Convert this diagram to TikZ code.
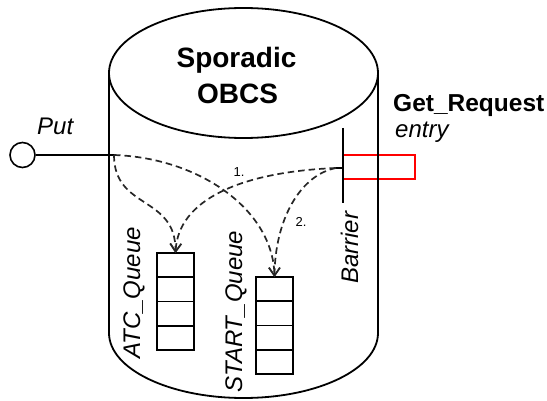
\documentclass[tikz,border=0pt]{standalone}
\usepackage{fontspec}
\setmainfont{Liberation Sans}
\usetikzlibrary{arrows.meta}
\begin{document}
\begin{tikzpicture}[x=1pt,y=-1pt,
  wall/.style={line width=1.8pt},
  cell/.style={draw,line width=1.6pt,minimum width=37pt,minimum height=24.25pt,inner sep=0pt,outer sep=0pt},
  flow/.style={line width=1.7pt,black!85,dash pattern=on 6.5pt off 4pt,-{Straight Barb[length=8pt,width=11pt,line width=1.5pt]}},
  lbl/.style={font=\fontsize{24}{28}\selectfont,inner sep=0pt},
  slant/.style={font=\fontsize{24}{28}\selectfont\itshape,inner sep=0pt},
  title/.style={font=\fontsize{28}{32}\selectfont\bfseries,inner sep=0pt},
  step num/.style={font=\fontsize{13}{15}\selectfont,inner sep=0pt}]
\useasboundingbox (0,0) rectangle (547,401);

% entry box of Get_Request (drawn under the wall)
\node[draw=red,line width=1.3pt,minimum width=72pt,minimum height=24pt,inner sep=0pt] (entry) at (379,167) {};

% cylinder
\draw[wall] (243.5,73) ellipse [x radius=134.5pt, y radius=65pt];
\draw[wall] (109,73) -- (109,333) arc[start angle=180,end angle=360,x radius=134.5pt,y radius=65pt] -- (378,73);

% titles
\node[title,anchor=base] (t1) at (236.5,68) {Sporadic};
\node[title,anchor=base] (t2) at (237.5,104) {OBCS};
\node[lbl,font=\fontsize{24.5}{28}\selectfont\bfseries,anchor=base west] (gr) at (393,112) {Get\_Request};
\node[slant,anchor=base west] (en) at (395,138) {entry};
\node[slant,anchor=base west] (pt) at (37,135) {Put};

% Put port
\node[draw,circle,line width=1.6pt,minimum size=25pt,inner sep=0pt] (put) at (22.5,155) {};
\coordinate (j) at (114,155);
\draw[line width=1.5pt] (put) -- (j);

% barrier
\coordinate (btop) at (343,128);
\coordinate (bbot) at (343,203);
\coordinate (bmid) at (343,168);
\coordinate (bk) at (336,168);
\draw[wall] (btop) -- (bbot);
\draw[line width=1.6pt] (bk) -- (bmid);
\node[slant,rotate=90,anchor=base west] (bl) at (358,284) {Barrier};

% queues
\node[cell] (atc1) at (175.5,265.1) {};
\node[cell] (atc2) at (175.5,289.4) {};
\node[cell] (atc3) at (175.5,313.6) {};
\node[cell] (atc4) at (175.5,337.9) {};
\node[cell] (st1) at (274.5,289.1) {};
\node[cell] (st2) at (274.5,313.4) {};
\node[cell] (st3) at (274.5,337.6) {};
\node[cell] (st4) at (274.5,361.9) {};
\node[slant,rotate=90,anchor=base west] (al) at (140,359) {ATC\_Queue};
\node[slant,rotate=90,anchor=base west] (sl) at (242,393) {START\_Queue};

% flows
\draw[flow] (j) .. controls (114,210) and (176,195) .. (atc1.north);
\draw[flow] (j) .. controls (200,158) and (273,210) .. (st1.north);
\draw[flow] (bk) .. controls (240,172) and (178,200) .. (atc1.north);
\draw[flow] (bk) .. controls (300,175) and (275,220) .. (st1.north);
\node[step num] (n1) at (239,172) {1.};
\node[step num] (n2) at (301,222) {2.};
\end{tikzpicture}
\end{document}
